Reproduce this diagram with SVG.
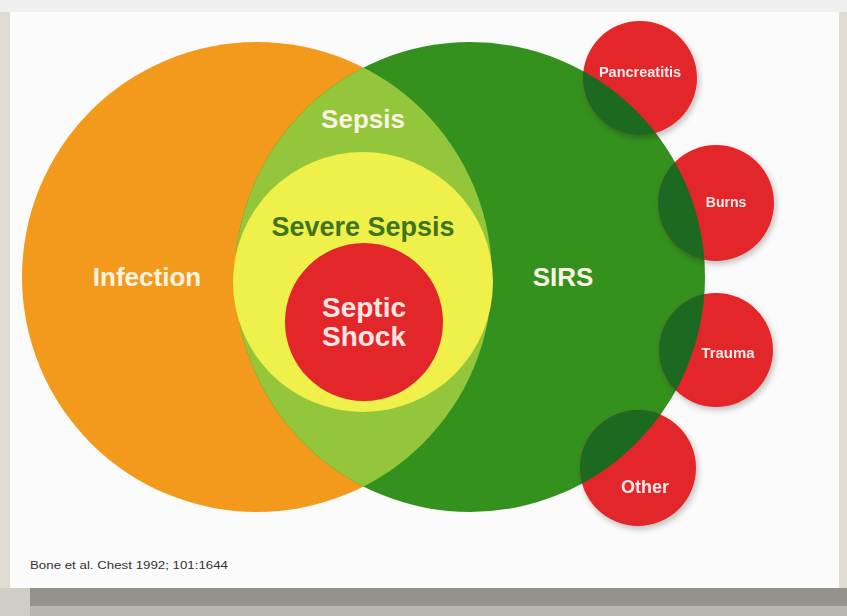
<svg xmlns="http://www.w3.org/2000/svg" width="847" height="616" viewBox="0 0 847 616">
<defs>
<clipPath id="clipOrange"><circle cx="257" cy="277" r="235"/></clipPath>
<clipPath id="clipGreen"><circle cx="470" cy="277" r="235"/></clipPath>
<filter id="glow" x="-20%" y="-20%" width="140%" height="140%">
<feGaussianBlur in="SourceAlpha" stdDeviation="3"/>
<feOffset dx="2" dy="3"/>
<feComponentTransfer><feFuncA type="linear" slope="0.25"/></feComponentTransfer>
<feMerge><feMergeNode/><feMergeNode in="SourceGraphic"/></feMerge>
</filter>
</defs>
<style>
.lbl{font-family:"Liberation Sans",Arial,sans-serif;text-anchor:middle;font-weight:bold;}
.big{font-size:26px;fill:#fbf3e2;}
.small{font-size:14px;fill:#fbeaea;}
.red{fill:#e2262a;}
.dk{fill:#1c6a24;}
</style>
<!-- background -->
<rect x="0" y="0" width="847" height="616" fill="#dedcd3"/>
<rect x="0" y="0" width="847" height="12" fill="#efefef"/>
<rect x="0" y="588" width="847" height="18" fill="#94928b"/>
<rect x="0" y="606" width="847" height="10" fill="#b8b7ae"/>
<rect x="0" y="588" width="30" height="28" fill="#cfcdc4"/>
<rect x="10" y="12" width="829" height="576" fill="#fbfbfb"/>

<g id="infection">
<circle cx="257" cy="277" r="235" fill="#f39a1c"/>
<text class="lbl big" x="147" y="286">Infection</text>
</g>
<g id="sirs">
<circle cx="470" cy="277" r="235" fill="#34911e"/>
<text class="lbl big" x="563" y="286">SIRS</text>
</g>
<g id="sepsis">
<circle cx="470" cy="277" r="235" fill="#93c63a" clip-path="url(#clipOrange)"/>
<text class="lbl big" x="363" y="128">Sepsis</text>
</g>
<g id="severe-sepsis">
<circle cx="363" cy="282" r="130" fill="#eff04a"/>
<text class="lbl" x="363" y="236" style="font-size:27px;fill:#3f7420">Severe Sepsis</text>
</g>
<g id="septic-shock">
<circle cx="364" cy="322" r="79" fill="#e2262a"/>
<text class="lbl big" x="364" y="317" style="font-size:28px;fill:#fbe6e2">Septic</text>
<text class="lbl big" x="364" y="346" style="font-size:28px;fill:#fbe6e2">Shock</text>
</g>

<g id="pancreatitis" filter="url(#glow)">
<circle class="red" cx="640" cy="78" r="57"/>
<circle class="dk" cx="640" cy="78" r="57" clip-path="url(#clipGreen)"/>
<text class="lbl small" x="640" y="77" style="font-size:14.5px">Pancreatitis</text>
</g>
<g id="burns" filter="url(#glow)">
<circle class="red" cx="716" cy="203" r="58"/>
<circle class="dk" cx="716" cy="203" r="58" clip-path="url(#clipGreen)"/>
<text class="lbl small" x="726" y="207">Burns</text>
</g>
<g id="trauma" filter="url(#glow)">
<circle class="red" cx="716" cy="350" r="57"/>
<circle class="dk" cx="716" cy="350" r="57" clip-path="url(#clipGreen)"/>
<text class="lbl small" x="728" y="358" style="font-size:15px">Trauma</text>
</g>
<g id="other" filter="url(#glow)">
<circle class="red" cx="638" cy="468" r="58"/>
<circle class="dk" cx="638" cy="468" r="58" clip-path="url(#clipGreen)"/>
<text class="lbl small" x="645" y="493" style="font-size:18px">Other</text>
</g>

<g id="connectors"/>

<text x="30" y="569" textLength="198" lengthAdjust="spacingAndGlyphs" style="font-family:'Liberation Sans',Arial,sans-serif;font-size:11px;fill:#333">Bone et al. Chest 1992; 101:1644</text>
</svg>
